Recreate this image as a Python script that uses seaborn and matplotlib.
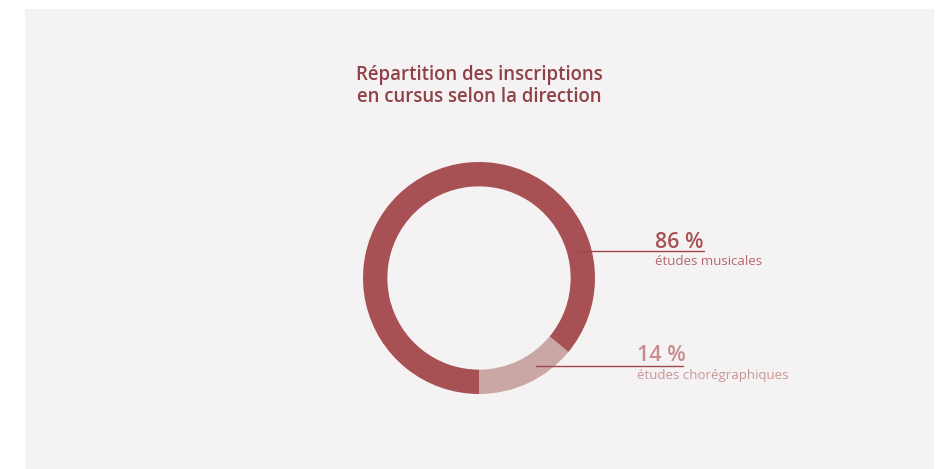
import matplotlib.pyplot as plt
import seaborn as sns
from matplotlib.patches import Rectangle

# Data
labels = ["études chorégraphiques", "études musicales"]
values = [14, 86]
colors = ["#caa6a5", "#a85154"]
pct_colors = ["#c58d8e", "#a85154"]
text_colors = ["#c99596", "#b5676a"]

sns.set_style("white")
plt.rcParams['font.family'] = ['Open Sans', 'DejaVu Sans']

fig = plt.figure(figsize=(9.4, 4.69), dpi=100)
fig.patch.set_facecolor("white")

# Light panel behind the chart
bg = fig.add_axes([0, 0, 1, 1], zorder=-1)
bg.add_patch(Rectangle((25 / 940, 0), 909 / 940, 1 - 9 / 469,
                       transform=bg.transAxes, facecolor="#f5f2f3", edgecolor="none"))
bg.axis("off")

fig.text(479 / 940, 1 - 75 / 469, "Répartition des inscriptions",
         ha="center", va="center", fontsize=13.4, fontweight="semibold", color="#8e4246")
fig.text(479 / 940, 1 - 97 / 469, "en cursus selon la direction",
         ha="center", va="center", fontsize=13.4, fontweight="semibold", color="#8e4246")

# Donut
cx, cy, r = 479, 278, 116
ax = fig.add_axes([(cx - r) / 940, 1 - (cy + r) / 469, 2 * r / 940, 2 * r / 469])
ax.pie(values, colors=colors, startangle=270, counterclock=True,
       wedgeprops=dict(width=0.21, edgecolor="none"))
ax.set_xlim(-1, 1)
ax.set_ylim(-1, 1)
ax.set_aspect("auto")
ax.axis("off")

def px(x, y):
    return (x - cx) / r, (cy - y) / r

# Callouts: (line start, line end, line y, text x, pct y, label y)
callouts = [
    (536, 683, 366, 637, 355, 375),
    (577, 704, 251, 655, 242, 261),
]
for i, (x0, x1, ly, tx, py_, ty) in enumerate(callouts):
    a = px(x0, ly)
    b = px(x1, ly)
    ax.plot([a[0], b[0]], [a[1], b[1]], color="#a0474b", lw=1.0, clip_on=False)
    ax.text(*px(tx, py_), f"{values[i]} %", fontsize=15.5, fontweight="semibold",
            color=pct_colors[i], ha="left", va="center", clip_on=False)
    ax.text(*px(tx, ty), labels[i], fontsize=9.5, color=text_colors[i],
            ha="left", va="center", clip_on=False)

plt.savefig("out.png", dpi=100, facecolor=fig.get_facecolor())
